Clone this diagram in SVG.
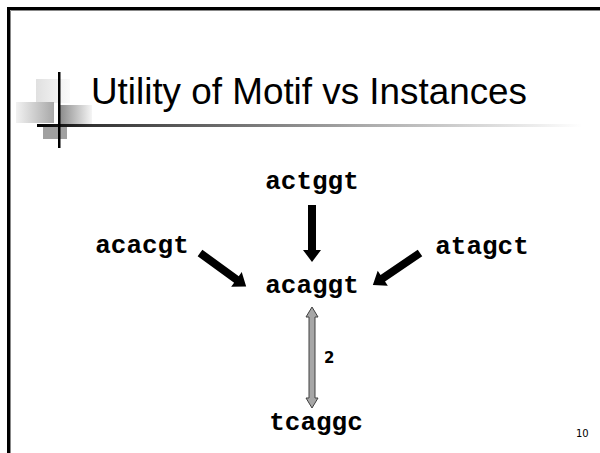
<svg xmlns="http://www.w3.org/2000/svg" width="600" height="453" viewBox="0 0 600 453">
  <defs>
    <style>
      .seq { font-family: "Liberation Mono", "Courier New", monospace; font-weight: bold; font-size: 26px; fill: #000; text-anchor: middle; }
      .title { font-family: "Liberation Sans", Arial, sans-serif; font-size: 36px; fill: #000; }
      .lbl { font-family: "DejaVu Sans", Tahoma, sans-serif; font-weight: bold; font-size: 14px; fill: #000; }
      .pg { font-family: "DejaVu Sans", Tahoma, sans-serif; font-size: 10px; fill: #000; }
      .blk { fill: #000; }
      .dist { fill: #a6a6a6; stroke: #404040; stroke-width: 1; }
    </style>
    <!-- solid block arrow along +x, 57px long -->
    <path id="blockArrow" d="M0,-4 H45 V-9 L57,0 L45,9 V4 H0 Z"/>
    <linearGradient id="ruleGrad" x1="0" y1="0" x2="1" y2="0">
      <stop offset="0" stop-color="#000"/>
      <stop offset="0.1" stop-color="#333"/>
      <stop offset="0.6" stop-color="#aaa"/>
      <stop offset="1" stop-color="#fff"/>
    </linearGradient>
    <linearGradient id="sqLight" x1="0" y1="0" x2="1" y2="0">
      <stop offset="0" stop-color="#e0e0e0"/>
      <stop offset="1" stop-color="#fafafa"/>
    </linearGradient>
    <linearGradient id="sqLeft" x1="0" y1="0" x2="1" y2="0">
      <stop offset="0" stop-color="#f2f2f2"/>
      <stop offset="1" stop-color="#a8a8a8"/>
    </linearGradient>
    <linearGradient id="sqRight" x1="0" y1="0" x2="1" y2="0">
      <stop offset="0" stop-color="#8c8c8c"/>
      <stop offset="1" stop-color="#f5f5f5"/>
    </linearGradient>
  </defs>

  <rect width="600" height="453" fill="#fff"/>

  <!-- slide frame -->
  <path d="M8.5,453 V8.5 H600" fill="none" stroke="#000" stroke-width="3"/>
  <path d="M10.5,453 V10.5 H600" fill="none" stroke="#888" stroke-width="1"/>

  <!-- title ornament -->
  <g id="ornament">
    <rect x="36" y="79" width="34" height="24" fill="url(#sqLight)"/>
    <rect x="16" y="102" width="38" height="21" fill="url(#sqLeft)"/>
    <rect x="60" y="105" width="32" height="22" fill="url(#sqRight)"/>
    <rect x="43" y="126" width="24" height="13" fill="#a0a0a0"/>
    <rect x="37" y="124" width="545" height="3" fill="url(#ruleGrad)"/>
    <rect x="58" y="72" width="2.5" height="76" fill="#000"/>
  </g>

  <text class="title" x="91" y="104" textLength="436" lengthAdjust="spacingAndGlyphs">Utility of Motif vs Instances</text>

  <!-- sequence nodes -->
  <g id="node-actggt"><text class="seq" x="312" y="189">actggt</text></g>
  <g id="node-acacgt"><text class="seq" x="142" y="253">acacgt</text></g>
  <g id="node-atagct"><text class="seq" x="482" y="254">atagct</text></g>
  <g id="node-acaggt"><text class="seq" x="312" y="293">acaggt</text></g>
  <g id="node-tcaggc"><text class="seq" x="316" y="430">tcaggc</text></g>

  <!-- connectors -->
  <g id="connectors">
    <use href="#blockArrow" class="blk" transform="translate(312,205) rotate(90)"/>
    <use href="#blockArrow" class="blk" transform="translate(200,253) rotate(35.9)"/>
    <use href="#blockArrow" class="blk" transform="translate(420,253) rotate(145.8)"/>
    <path class="dist" d="M312,307 L318,317 H315 V398 H318 L312,408 L306,398 H309 V317 H306 Z"/>
    <text class="lbl" x="324" y="363" style="font-size:15px">2</text>
  </g>

  <text class="pg" x="576" y="437">10</text>
</svg>
